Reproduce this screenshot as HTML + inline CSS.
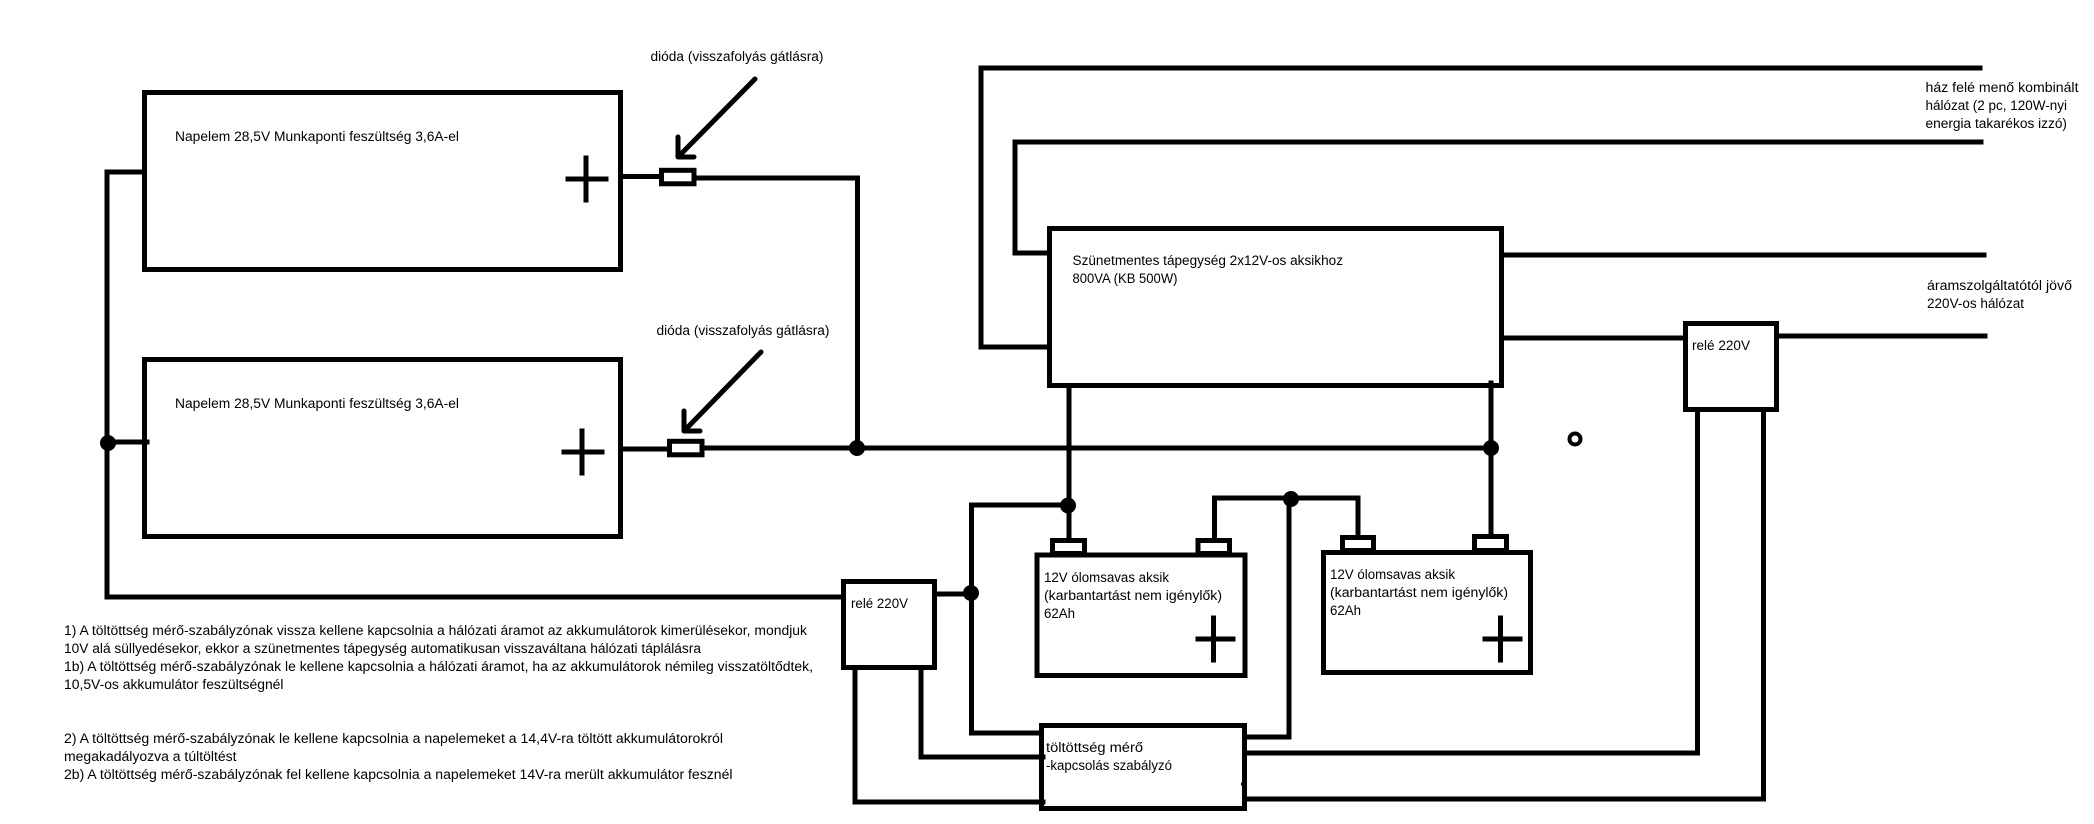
<!DOCTYPE html>
<html><head><meta charset="utf-8">
<style>
html,body{margin:0;padding:0;background:#fff}
svg{display:block}
text{font-family:"Liberation Sans",sans-serif;font-size:13.5px;fill:#000}
</style></head>
<body>
<svg width="2094" height="824" viewBox="0 0 2094 824" xmlns="http://www.w3.org/2000/svg">
<rect width="2094" height="824" fill="#fff"/>
<g fill="none" stroke="#000" stroke-width="5" stroke-linecap="square" stroke-linejoin="miter">
<!-- panels -->
<rect x="144.500" y="92.500" width="476" height="177"/>
<rect x="144.500" y="359.500" width="476" height="177"/>
<!-- panel negative bus -->
<path d="M107 172V597H841"/>
<path d="M107 172H143"/>
<path d="M107 442H147"/>
<!-- plus signs -->
<path d="M568 179H606M586 158V200"/>
<path d="M564 452H602M582 431V473"/>
<!-- diodes -->
<rect x="661.500" y="170.300" width="32.500" height="13.500"/>
<rect x="669.500" y="441.300" width="32.500" height="13.500"/>
<path d="M623 176.500H659M696 178H857.500V448"/>
<path d="M623 449H667M704 448H1491"/>
<!-- UPS -->
<rect x="1049.500" y="228.500" width="452" height="157"/>
<path d="M1048 68H981V347H1048M981 68H1980"/>
<path d="M1048 253H1015V142H1981"/>
<path d="M1503 255H1984M1503 338H1683M1779 336H1985"/>
<!-- relay 1 -->
<rect x="1685.500" y="323.500" width="91" height="86"/>
<path d="M1697.500 412V753H1247M1763.500 412V799H1247"/>
<!-- UPS to batteries -->
<path d="M1069 386V538M1491 383V534"/>
<!-- batteries -->
<rect x="1037" y="555" width="208" height="120.500"/>
<rect x="1323.500" y="552.500" width="207" height="120"/>
<rect x="1052.500" y="540.500" width="32" height="13"/>
<rect x="1198" y="540.500" width="31.500" height="13"/>
<rect x="1342.500" y="537.500" width="31" height="13"/>
<rect x="1474.500" y="536.500" width="32" height="14"/>
<path d="M1198 639H1233M1213.500 618V660"/>
<path d="M1485 639H1520M1500.500 618V660"/>
<!-- battery wiring -->
<path d="M1069 505H971.500V733H1040"/>
<path d="M937 594H972"/>
<path d="M1214.500 540V498H1358V535"/>
<path d="M1289 499V737H1247"/>
<!-- relay 2 -->
<rect x="843.500" y="581.500" width="91" height="86"/>
<path d="M921 670V757H1043M855 670V802H1043"/>
<!-- charger -->
<rect x="1041.500" y="725.500" width="203" height="83"/>
</g>
<!-- arrows -->
<g fill="none" stroke="#000" stroke-width="5" stroke-linecap="round" stroke-linejoin="round">
<path d="M755 79L679 156M678 137V157H694"/>
<path d="M761 352L685 430M684 411V431H700"/>
</g>
<g fill="#000">
<circle cx="108" cy="443" r="8"/>
<circle cx="857" cy="448" r="8"/>
<circle cx="1491" cy="448" r="8"/>
<circle cx="1068" cy="505.500" r="8"/>
<circle cx="1291" cy="499" r="8"/>
<circle cx="971" cy="593" r="8"/>
<circle cx="1243.500" cy="784" r="2.500"/>
</g>
<circle cx="1575" cy="439" r="5.500" fill="#fff" stroke="#000" stroke-width="4"/>
<!-- labels -->
<text x="175" y="141" textLength="284" lengthAdjust="spacingAndGlyphs">Napelem 28,5V Munkaponti feszültség 3,6A-el</text>
<text x="175" y="408" textLength="284" lengthAdjust="spacingAndGlyphs">Napelem 28,5V Munkaponti feszültség 3,6A-el</text>
<text x="650.500" y="61" textLength="173" lengthAdjust="spacingAndGlyphs">dióda (visszafolyás  gátlásra)</text>
<text x="656.500" y="335" textLength="173" lengthAdjust="spacingAndGlyphs">dióda (visszafolyás  gátlásra)</text>
<text x="1072.500" y="265" textLength="270.500" lengthAdjust="spacingAndGlyphs">Szünetmentes tápegység 2x12V-os aksikhoz</text>
<text x="1072.500" y="283" textLength="105" lengthAdjust="spacingAndGlyphs">800VA (KB 500W)</text>
<text x="1925.500" y="92" textLength="153" lengthAdjust="spacingAndGlyphs">ház felé menő kombinált</text>
<text x="1925.500" y="110" textLength="141.500" lengthAdjust="spacingAndGlyphs">hálózat (2 pc, 120W-nyi</text>
<text x="1925.500" y="128" textLength="141.500" lengthAdjust="spacingAndGlyphs">energia takarékos izzó)</text>
<text x="1927" y="290" textLength="145" lengthAdjust="spacingAndGlyphs">áramszolgáltatótól jövő</text>
<text x="1927" y="308" textLength="97" lengthAdjust="spacingAndGlyphs">220V-os hálózat</text>
<text x="1692" y="350" textLength="58" lengthAdjust="spacingAndGlyphs">relé 220V</text>
<text x="851" y="608" textLength="57" lengthAdjust="spacingAndGlyphs">relé 220V</text>
<text x="1044" y="582" textLength="125" lengthAdjust="spacingAndGlyphs">12V ólomsavas aksik</text>
<text x="1044" y="600" textLength="178" lengthAdjust="spacingAndGlyphs">(karbantartást nem igénylők)</text>
<text x="1044" y="618" textLength="31" lengthAdjust="spacingAndGlyphs">62Ah</text>
<text x="1330" y="579" textLength="125" lengthAdjust="spacingAndGlyphs">12V ólomsavas aksik</text>
<text x="1330" y="597" textLength="178" lengthAdjust="spacingAndGlyphs">(karbantartást nem igénylők)</text>
<text x="1330" y="615" textLength="31" lengthAdjust="spacingAndGlyphs">62Ah</text>
<text x="1046" y="752" textLength="97" lengthAdjust="spacingAndGlyphs">töltöttség mérő</text>
<text x="1046" y="770" textLength="126" lengthAdjust="spacingAndGlyphs">-kapcsolás szabályzó</text>
<text x="64" y="635" textLength="743" lengthAdjust="spacingAndGlyphs">1) A töltöttség mérő-szabályzónak vissza kellene kapcsolnia a hálózati áramot az akkumulátorok kimerülésekor, mondjuk</text>
<text x="64" y="653" textLength="637" lengthAdjust="spacingAndGlyphs">10V alá süllyedésekor, ekkor a szünetmentes tápegység automatikusan visszaváltana hálózati táplálásra</text>
<text x="64" y="671" textLength="749" lengthAdjust="spacingAndGlyphs">1b) A töltöttség mérő-szabályzónak le kellene kapcsolnia a hálózati áramot, ha az akkumulátorok némileg visszatöltődtek,</text>
<text x="64" y="689" textLength="219.500" lengthAdjust="spacingAndGlyphs">10,5V-os akkumulátor feszültségnél</text>
<text x="64" y="743" textLength="659" lengthAdjust="spacingAndGlyphs">2) A töltöttség mérő-szabályzónak le kellene kapcsolnia a napelemeket a 14,4V-ra töltött akkumulátorokról</text>
<text x="64" y="761" textLength="172.500" lengthAdjust="spacingAndGlyphs">megakadályozva a túltöltést</text>
<text x="64" y="779" textLength="668.500" lengthAdjust="spacingAndGlyphs">2b) A töltöttség mérő-szabályzónak fel kellene kapcsolnia a napelemeket 14V-ra merült akkumulátor fesznél</text>
</svg>
</body></html>
